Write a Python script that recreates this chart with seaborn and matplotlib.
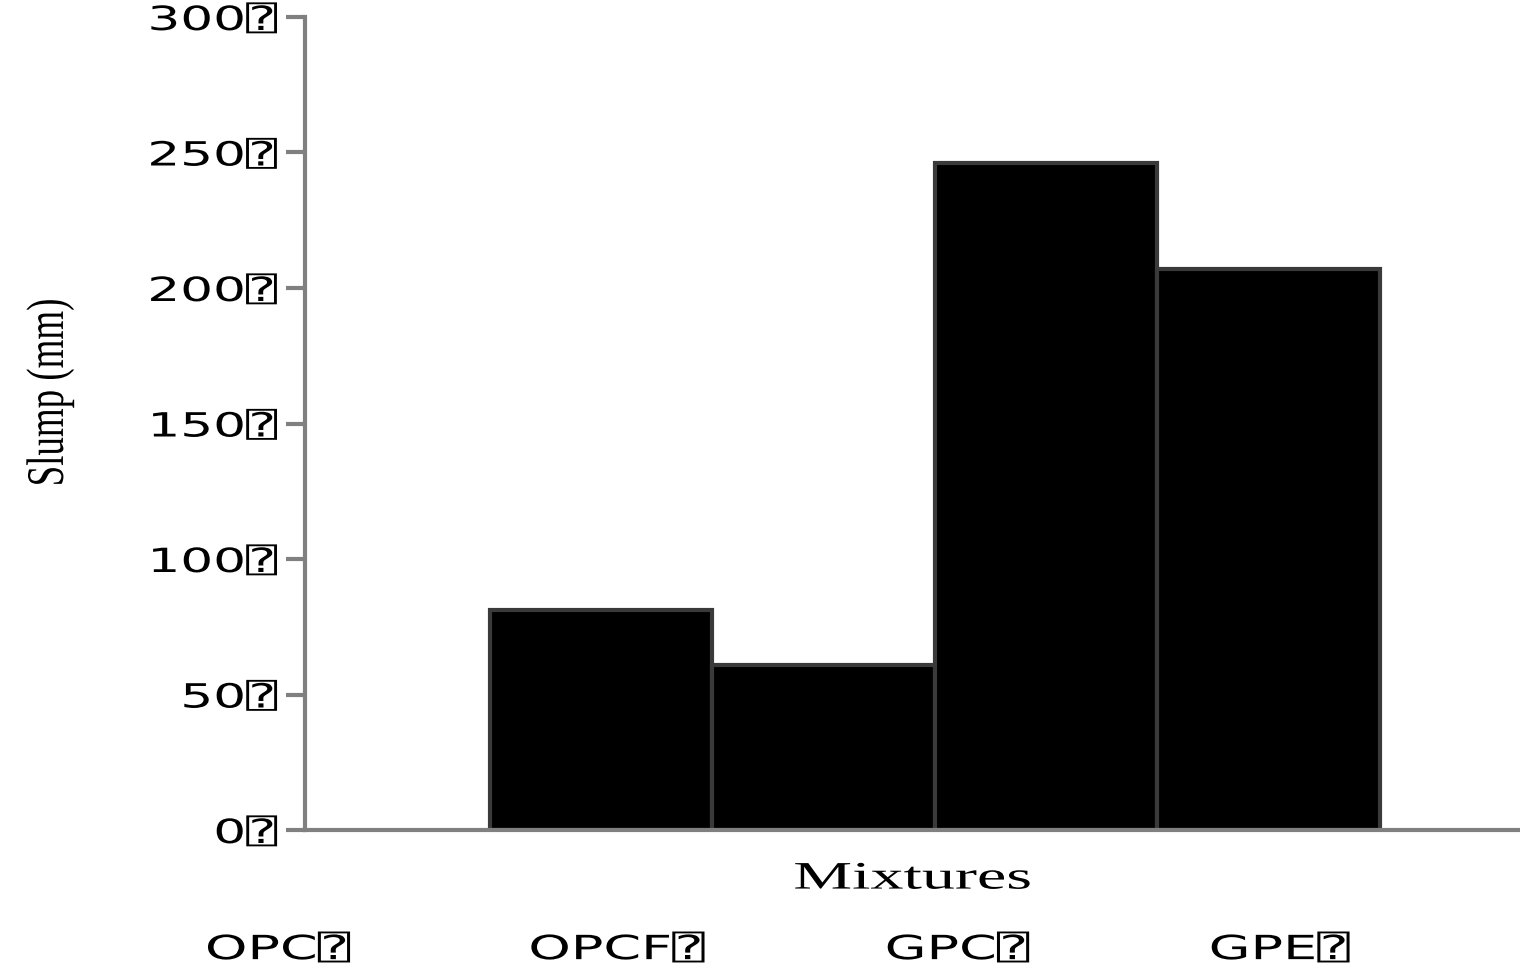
import matplotlib
matplotlib.use('Agg')
import matplotlib.pyplot as plt
import matplotlib.patheffects as pe
from matplotlib.transforms import Affine2D
import seaborn as sns
import pandas as pd

# Data
mixtures = ['OPC', 'OPCF', 'GPC', 'GPE']
slump_mm = [81, 61, 246, 207]
yticks = [0, 50, 100, 150, 200, 250, 300]
box = '\u2370'  # the boxed question mark shown after every label

df = pd.DataFrame({'Mixture': mixtures, 'Slump': slump_mm})


class Stretch(pe.AbstractPathEffect):
    """Stretch text along its baseline about its left, centre or right edge."""

    def __init__(self, sx, anchor='center'):
        super().__init__()
        self.sx = sx
        self.anchor = anchor

    def draw_path(self, renderer, gc, tpath, affine, rgbFace=None):
        ext = tpath.get_extents()
        a = {'left': ext.x0, 'right': ext.x1}.get(self.anchor, (ext.x0 + ext.x1) / 2)
        pre = Affine2D().translate(-a, 0).scale(self.sx, 1).translate(a, 0)
        renderer.draw_path(gc, tpath, pre + affine, rgbFace)


sns.set_style('white')
plt.rcParams['font.family'] = ['DejaVu Sans', 'DejaVu Sans Mono', 'Noto Sans']
plt.rcParams['text.color'] = 'black'

fig = plt.figure(figsize=(15.2, 9.71), dpi=100)
ax = fig.add_axes([0.2007, 0.1452, 0.7993, 0.8373])

sns.barplot(data=df, x='Mixture', y='Slump', color='black', width=1.0,
            edgecolor='#3a3a3a', linewidth=3, saturation=1, ax=ax)

ax.set_xlim(-1.33, 4.13)
ax.set_ylim(0, 300)
ax.set_xticks([])
ax.set_yticks(yticks)
ax.set_yticklabels([f'{t}{box}' for t in yticks], fontsize=24, color='black')
ax.tick_params(axis='y', length=14, width=3, color='#808080', pad=6, left=True)
for lbl in ax.get_yticklabels():
    lbl.set_path_effects([Stretch(1.55, 'right')])

for side in ['top', 'right']:
    ax.spines[side].set_visible(False)
for side in ['left', 'bottom']:
    ax.spines[side].set_color('#808080')
    ax.spines[side].set_linewidth(3)

ylab = ax.set_ylabel('Slump (mm)', family='Liberation Serif', fontsize=38, color='black')
ylab.set_path_effects([Stretch(0.7, 'center')])
ax.yaxis.set_label_coords(-0.19, 0.538)

xlab = ax.set_xlabel('Mixtures', family='Liberation Serif', fontsize=28,
                     color='black', labelpad=22)
xlab.set_path_effects([Stretch(1.7, 'center')])

# category labels sit in a row below the axis title
label_x = [0.183, 0.406, 0.630, 0.842]
for lx, name in zip(label_x, mixtures):
    t = fig.text(lx, 0.022, f'{name}{box}', fontsize=24, ha='center', va='center')
    t.set_path_effects([Stretch(1.62, 'center')])

plt.savefig('out.png', dpi=100)
plt.close()
